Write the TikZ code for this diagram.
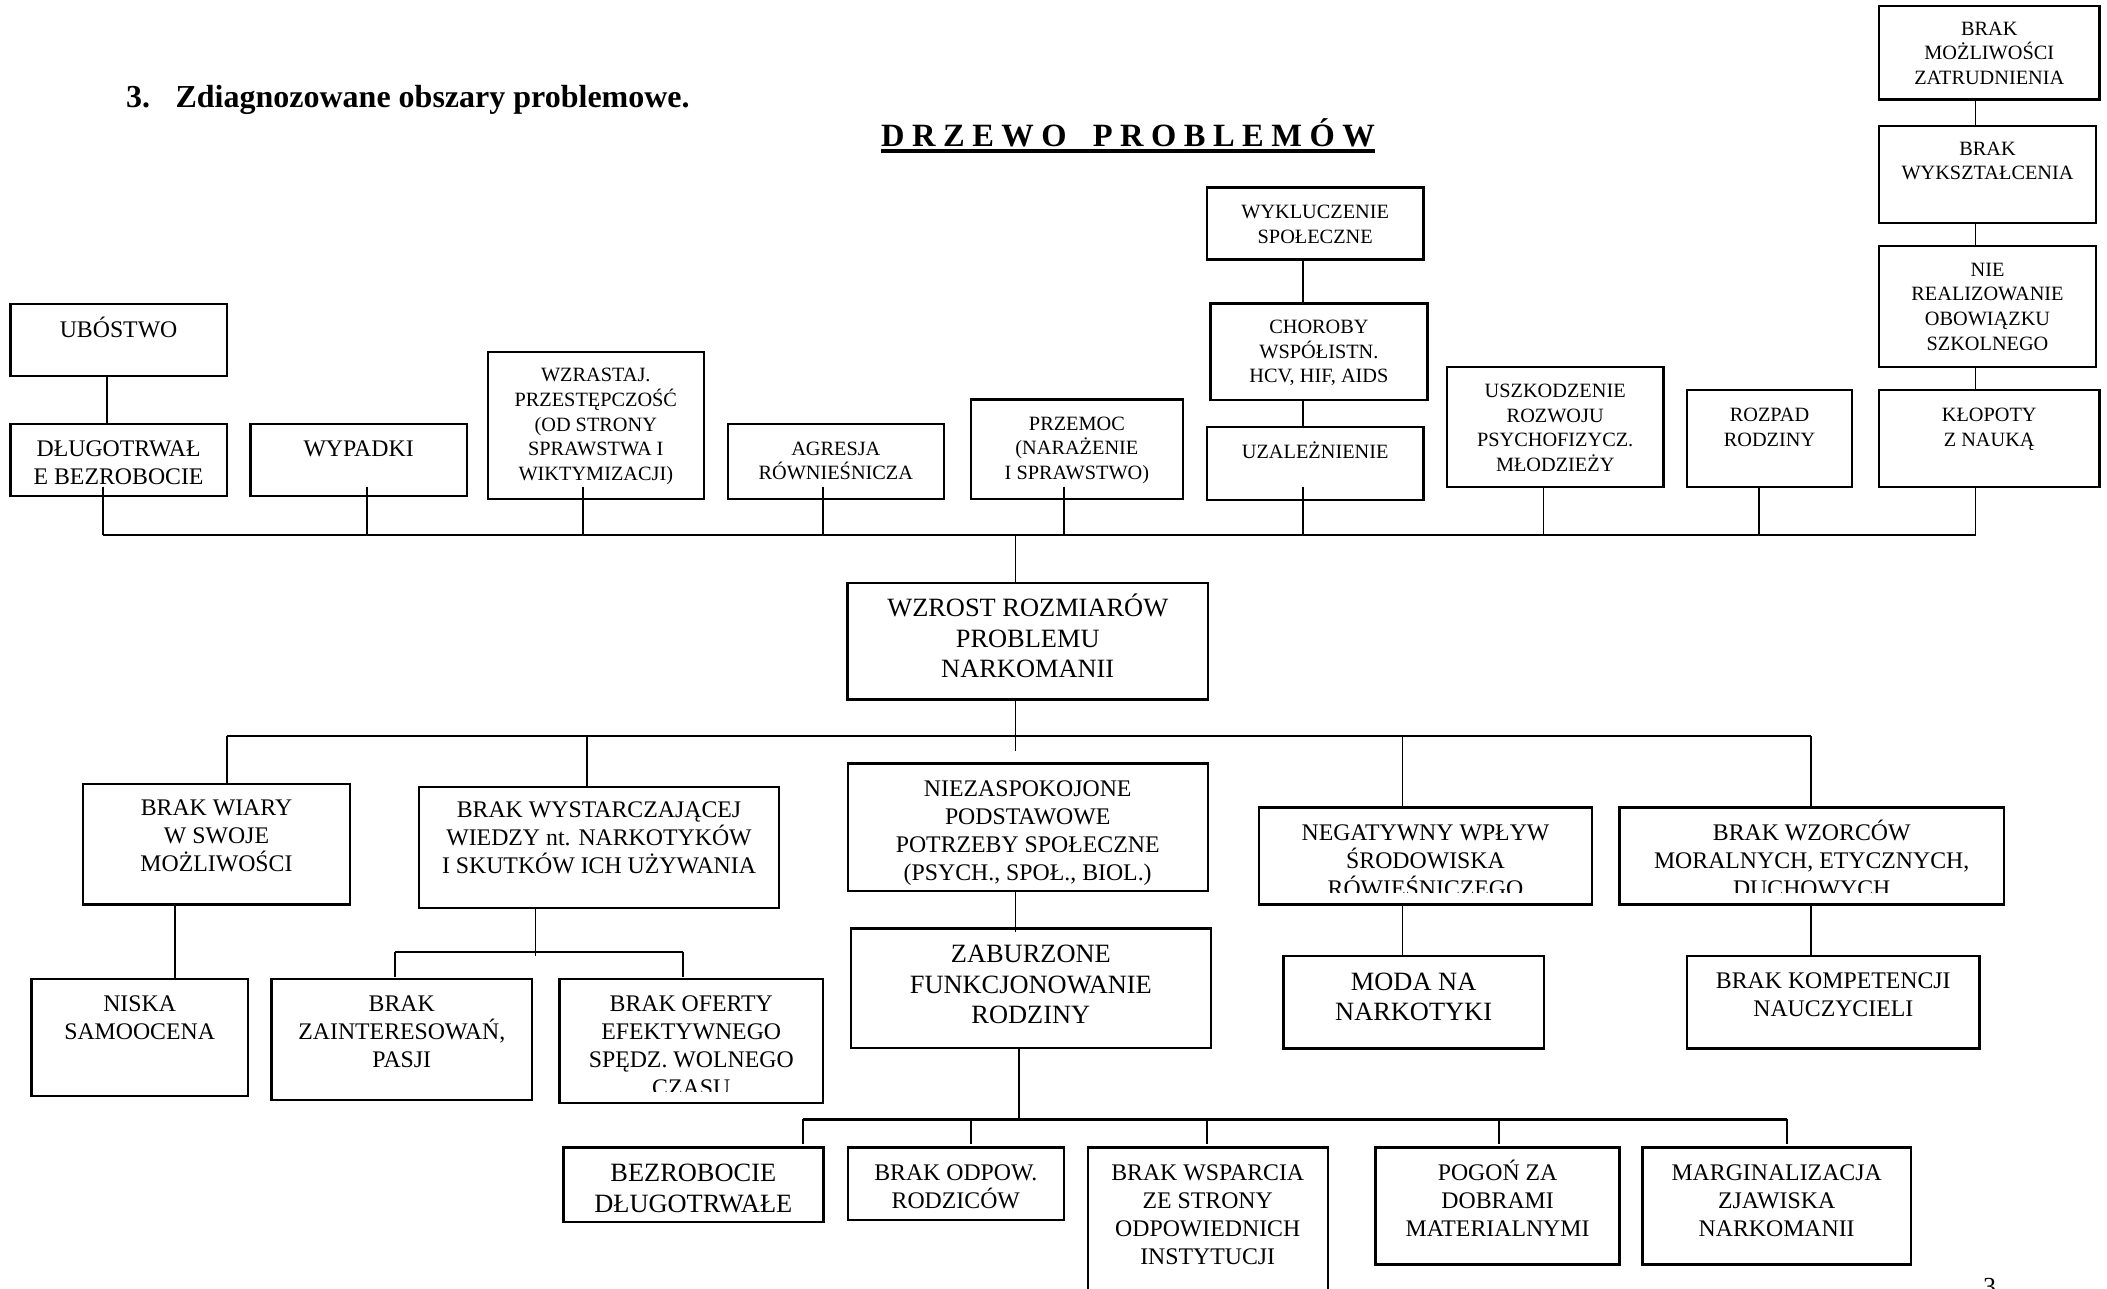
\documentclass[tikz,border=0pt]{standalone}
\usepackage{fontspec}
\setmainfont{Liberation Serif}
\newcommand\myfA{\fontsize{20.3}{24.7}\selectfont}
\newcommand\myfB{\fontsize{23.8}{27.5}\selectfont}
\newcommand\myfC{\fontsize{26.4}{30.5}\selectfont}
\newcommand\myfD{\fontsize{23.8}{28}\selectfont}
\tikzset{
  bx/.style={draw, line width=2.4pt, inner sep=0pt, outer sep=0pt, anchor=north west},
  tx/.style={inner sep=0pt, outer sep=0pt, anchor=base},
  ln/.style={line width=1.6pt},
  busln/.style={line width=2.4pt},
}
% box: name, x1, y1, x2, y2, font, first-baseline offset, text
\newcommand\tb[8]{%
  \node[bx, minimum width={#4-#2}, minimum height={#5-#3}] (#1) at (#2,#3) {};
  \node[tx] (#1-t) at ([yshift=-#7pt]#1.north) {\parbox[t]{520pt}{\centering#6 #8}};
}
% clipped box: same plus clip distance above bottom
\newcommand\cb[9]{%
  \node[bx, minimum width={#4-#2}, minimum height={#5-#3}] (#1) at (#2,#3) {};
  \begin{scope}
    \clip (#1.north west) rectangle ([yshift=#9pt]#1.south east);
    \node[tx] (#1-t) at ([yshift=-#7pt]#1.north) {\parbox[t]{520pt}{\centering#6 #8}};
  \end{scope}
}
\begin{document}
\begin{tikzpicture}[x=1pt, y=-1pt]
\useasboundingbox (0,0) rectangle (2107,1288);
\clip (0,0) rectangle (2107,1288);
\fill[white] (0,0) rectangle (2107,1288);

% titles
\node[anchor=base west, inner sep=0pt, font=\bfseries\fontsize{32}{36}\selectfont] (sec) at (126,107.3) {3.};
\node[anchor=base west, inner sep=0pt, font=\bfseries\fontsize{32}{36}\selectfont] (ttl) at (175.4,107.3) {Zdiagnozowane obszary problemowe.};
\node[anchor=base west, inner sep=0pt, font=\bfseries\fontsize{32.5}{36}\selectfont] (drz) at (881,146.2)
  {D\hspace{7.5pt}R\hspace{7.5pt}Z\hspace{7.5pt}E\hspace{7.5pt}W\hspace{7.5pt}O\hspace{26pt}P\hspace{7.5pt}R\hspace{7.5pt}O\hspace{7.5pt}B\hspace{7.5pt}L\hspace{7.5pt}E\hspace{7.5pt}M\hspace{7.5pt}Ó\hspace{7.5pt}W};
\draw[line width=3.8pt] ([yshift=-5pt]drz.base west) -- ([yshift=-5pt]drz.base east);

% top row boxes
\tb{ubo}{10.5}{304}{226.7}{376}{\myfB}{33}{UBÓSTWO}
\tb{dlug}{10.5}{424}{226.7}{496}{\myfB}{32.7}{DŁUGOTRWAŁ\\E BEZROBOCIE}
\tb{wyp}{250.5}{424}{466.7}{496}{\myfB}{32.7}{WYPADKI}
\tb{wzr}{487.7}{351.7}{703.9}{499}{\myfA}{30}{WZRASTAJ.\\PRZESTĘPCZOŚĆ\\(OD STRONY\\SPRAWSTWA I\\WIKTYMIZACJI)}
\tb{agr}{727.7}{424}{943.9}{499}{\myfA}{31}{AGRESJA\\RÓWNIEŚNICZA}
\tb{prz}{971}{399.3}{1182.8}{499}{\myfA}{30.7}{PRZEMOC\\(NARAŻENIE\\I SPRAWSTWO)}
\tb{wyk}{1207}{187.3}{1423.4}{259.3}{\myfA}{31}{WYKLUCZENIE\\SPOŁECZNE}
\tb{cho}{1210.4}{303.3}{1427.5}{400}{\myfA}{30}{CHOROBY\\WSPÓŁISTN.\\HCV, HIF, AIDS}
\tb{uza}{1207}{427}{1423.4}{500}{\myfA}{31.3}{UZALEŻNIENIE}
\tb{usz}{1447}{366.7}{1663.4}{486.7}{\myfA}{30.7}{USZKODZENIE\\ROZWOJU\\PSYCHOFIZYCZ.\\MŁODZIEŻY}
\tb{roz}{1687}{390}{1852}{486.7}{\myfA}{31.7}{ROZPAD\\RODZINY}
\tb{klo}{1879}{390}{2099.5}{486.7}{\myfA}{31.7}{KŁOPOTY\\Z NAUKĄ}
\tb{nie}{1879}{246}{2096}{366.7}{\myfA}{30}{NIE\\REALIZOWANIE\\OBOWIĄZKU\\SZKOLNEGO}
\tb{wks}{1879}{126}{2096}{222.7}{\myfA}{29}{BRAK\\WYKSZTAŁCENIA}
\tb{moz}{1879}{6}{2099.5}{99.3}{\myfA}{29}{BRAK\\MOŻLIWOŚCI\\ZATRUDNIENIA}

% centre
\tb{wzrost}{847.5}{582.7}{1208}{699.3}{\myfC}{34}{WZROST ROZMIARÓW\\PROBLEMU\\NARKOMANII}

% lower boxes
\tb{wia}{82.8}{784}{350.2}{904.3}{\myfD}{31}{BRAK WIARY\\W SWOJE\\MOŻLIWOŚCI}
\tb{wys}{419}{786.7}{779}{907.7}{\myfD}{31}{BRAK WYSTARCZAJĄCEJ\\WIEDZY nt. NARKOTYKÓW\\I SKUTKÓW ICH UŻYWANIA}
\tb{nzp}{847.7}{763.3}{1207.7}{891}{\myfD}{33.4}{NIEZASPOKOJONE\\PODSTAWOWE\\POTRZEBY SPOŁECZNE\\(PSYCH., SPOŁ., BIOL.)}
\cb{neg}{1259}{807.3}{1592}{904.3}{\myfD}{32.7}{NEGATYWNY WPŁYW\\ŚRODOWISKA\\RÓWIEŚNICZEGO}{11.6}
\cb{wzo}{1619.6}{807.3}{2003.8}{904.3}{\myfD}{32.7}{BRAK WZORCÓW\\MORALNYCH, ETYCZNYCH,\\DUCHOWYCH}{11.6}
\tb{nis}{31.6}{979}{247.7}{1096}{\myfD}{32.7}{NISKA\\SAMOOCENA}
\tb{zai}{271.6}{979}{532}{1100}{\myfD}{32.7}{BRAK\\ZAINTERESOWAŃ,\\PASJI}
\cb{ofe}{559.3}{979}{823.2}{1102.7}{\myfD}{32}{BRAK OFERTY\\EFEKTYWNEGO\\SPĘDZ. WOLNEGO\\CZASU}{11}
\tb{zab}{850.7}{928.3}{1211}{1047.7}{\myfC}{34.4}{ZABURZONE\\FUNKCJONOWANIE\\RODZINY}
\tb{mod}{1283.3}{956}{1544}{1048.3}{\myfC}{34}{MODA NA\\NARKOTYKI}
\tb{kom}{1687}{956}{1979.6}{1048.3}{\myfD}{32.3}{BRAK KOMPETENCJI\\NAUCZYCIELI}
\tb{bez}{563.3}{1147.5}{823.3}{1221.7}{\myfC}{34}{BEZROBOCIE\\DŁUGOTRWAŁE}
\tb{odp}{847.7}{1147.5}{1063.9}{1220}{\myfD}{33}{BRAK ODPOW.\\RODZICÓW}
\tb{wsp}{1087.7}{1147.5}{1327.7}{1300}{\myfD}{33}{BRAK WSPARCIA\\ZE STRONY\\ODPOWIEDNICH\\INSTYTUCJI}
\tb{pog}{1375.6}{1147.5}{1619.6}{1264.3}{\myfD}{33}{POGOŃ ZA\\DOBRAMI\\MATERIALNYMI}
\tb{mar}{1642.5}{1147.5}{1910.8}{1264.3}{\myfD}{33}{MARGINALIZACJA\\ZJAWISKA\\NARKOMANII}

% page number
\node[anchor=base west, inner sep=0pt, font=\fontsize{26}{30}\selectfont] (pg) at (1983,1295) {3};

% ---- connectors: top
\coordinate (jd) at (103,534.7);
\coordinate (jw) at (367,534.7);
\coordinate (jr) at (583,534.7);
\coordinate (ja) at (823,534.7);
\coordinate (jp) at (1063.7,534.7);
\coordinate (ju) at (1302.8,534.7);
\coordinate (js) at (1543.4,534.7);
\coordinate (jo) at (1759,534.7);
\coordinate (jk) at (1975.5,534.7);
\coordinate (jc) at (1015.4,534.7);

\draw[ln] ([xshift=-11.9pt]ubo.south) -- ([xshift=-11.9pt]dlug.north);
\draw[ln] (jd |- dlug.south) ++(0,-9.3) -- (jd);
\draw[ln] (jw |- wyp.south) ++(0,-9.3) -- (jw);
\draw[ln] (jr |- wzr.south) ++(0,-12.3) -- (jr);
\draw[ln] (ja |- agr.south) ++(0,-12.3) -- (ja);
\draw[ln] (jp |- prz.south) ++(0,-12.3) -- (jp);
\draw[ln] (ju |- uza.south) ++(0,-13.3) -- (ju);
\draw[ln] (js |- usz.south) -- (js);
\draw[ln] (jo |- roz.south) -- (jo);
\draw[ln] (jk |- klo.south) -- (jk);
\draw[busln] (jd) -- (jk);

\draw[ln] (ju |- wyk.south) -- (ju |- cho.north);
\draw[ln] (ju |- cho.south) -- (ju |- uza.north);
\draw[ln] (jk |- moz.south) -- (jk |- wks.north);
\draw[ln] (jk |- wks.south) -- (jk |- nie.north);
\draw[ln] (jk |- nie.south) -- (jk |- klo.north);

% trunk
\draw[ln] (jc) -- (jc |- wzrost.north);
\coordinate (jc2) at (1015.4,736);
\draw[ln] (jc2 |- wzrost.south) -- ++(0,51.7);

% lower bus
\coordinate (lw) at (226.7,736);
\coordinate (ly) at (586.7,736);
\coordinate (ln) at (1402.5,736);
\coordinate (lz) at (1811,736);
\draw[busln] (lw) -- (lz);
\draw[ln] (lw) -- (lw |- wia.north);
\draw[ln] (ly) -- (ly |- wys.north);
\draw[ln] (ln) -- (ln |- neg.north);
\draw[ln] (lz) -- (lz |- wzo.north);

% second level
\coordinate (kn) at (174.7,950);
\draw[ln] (kn |- wia.south) -- (kn |- nis.north);
\coordinate (ks) at (535.4,951.7);
\draw[ln] (ks |- wys.south) -- ([yshift=-4.3pt]ks);
\coordinate (ks1) at (395,951.7);
\coordinate (ks2) at (682.8,951.7);
\draw[busln] (ks1) -- (ks2);
\draw[ln] (ks1) -- ++(0,25);
\draw[ln] (ks2) -- ++(0,25);
\draw[ln] (jc |- nzp.south) -- (jc |- zab.north) -- ++(0,3.7);
\draw[ln] (ln |- neg.south) -- (ln |- mod.north);
\draw[ln] (lz |- wzo.south) -- (lz |- kom.north);

% family bus
\coordinate (kz) at (1019,1119.3);
\draw[ln] (kz |- zab.south) -- (kz);
\coordinate (kb1) at (802.8,1119.3);
\coordinate (kb2) at (971.2,1119.3);
\coordinate (kb3) at (1207,1119.3);
\coordinate (kb4) at (1499,1119.3);
\coordinate (kb5) at (1786.8,1119.3);
\draw[busln] (kb1) -- (kb5);
\draw[ln] (kb1) -- ++(0,25);
\draw[ln] (kb2) -- ++(0,25);
\draw[ln] (kb3) -- ++(0,25);
\draw[ln] (kb4) -- ++(0,25);
\draw[ln] (kb5) -- ++(0,25);
\end{tikzpicture}
\end{document}
